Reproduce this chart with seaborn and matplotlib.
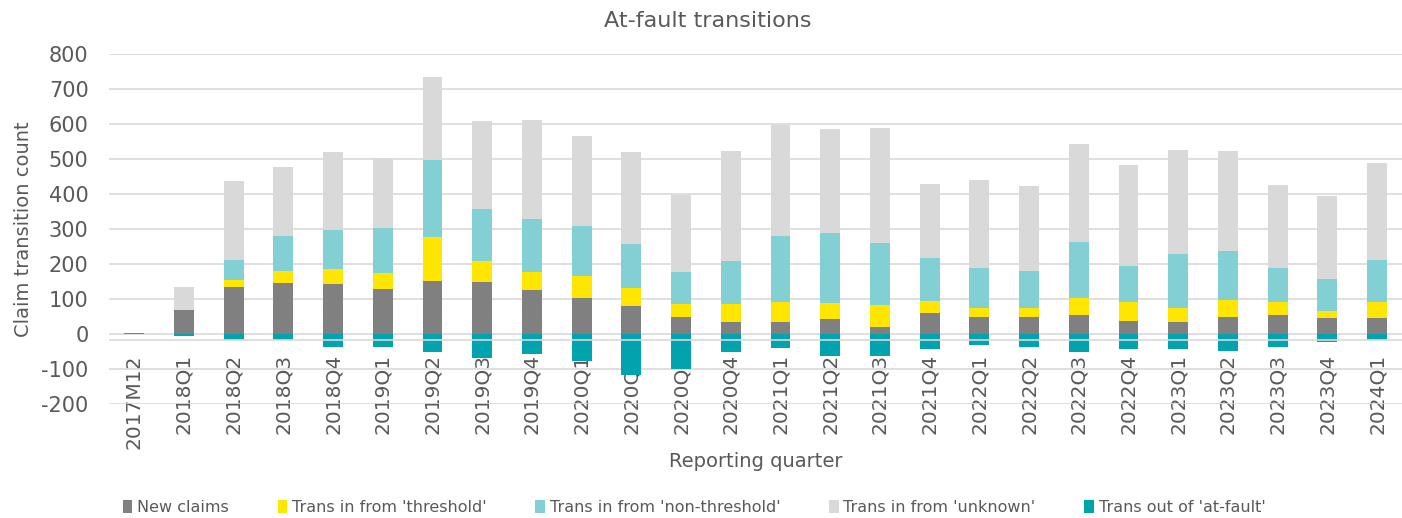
import matplotlib

matplotlib.use("Agg")
import matplotlib.pyplot as plt
import numpy as np
import pandas as pd
import seaborn as sns
from matplotlib.patches import Patch

# ---------------------------------------------------------------------------
# Data
# ---------------------------------------------------------------------------

quarters = [
    "2017M12", "2018Q1", "2018Q2", "2018Q3", "2018Q4",
    "2019Q1", "2019Q2", "2019Q3", "2019Q4",
    "2020Q1", "2020Q2", "2020Q3", "2020Q4",
    "2021Q1", "2021Q2", "2021Q3", "2021Q4",
    "2022Q1", "2022Q2", "2022Q3", "2022Q4",
    "2023Q1", "2023Q2", "2023Q3", "2023Q4",
    "2024Q1",
]
new_claims = [3, 69, 135, 146, 143, 130, 152, 149, 126, 103, 80, 50, 36,
              36, 44, 20, 60, 50, 50, 56, 39, 36, 50, 56, 46, 46]
from_threshold = [0, 0, 21, 36, 43, 45, 126, 60, 53, 63, 53, 37, 51,
                  57, 46, 63, 36, 26, 26, 47, 53, 40, 49, 36, 20, 46]
from_non_threshold = [0, 0, 56, 100, 112, 130, 219, 149, 149, 143, 126, 92, 123,
                      189, 199, 179, 123, 114, 106, 162, 103, 153, 139, 97, 93, 119]
from_unknown = [0, 66, 225, 195, 222, 199, 238, 252, 284, 257, 261, 220, 314,
                316, 298, 328, 211, 250, 242, 278, 288, 298, 285, 238, 235, 279]
out_of_at_fault = [0, -4, -16, -16, -35, -35, -50, -69, -55, -75, -115, -98, -50,
                   -40, -62, -62, -42, -32, -35, -50, -43, -43, -47, -35, -23, -16]

series_names = [
    "New claims",
    "Trans in from 'threshold'",
    "Trans in from 'non-threshold'",
    "Trans in from 'unknown'",
    "Trans out of 'at-fault'",
]
colors = ["#808080", "#FFE600", "#82D0D4", "#D9D9D9", "#00A3AE"]

df = pd.DataFrame({
    "quarter": quarters,
    "new": new_claims,
    "thr": from_threshold,
    "nonthr": from_non_threshold,
    "unk": from_unknown,
    "out": out_of_at_fault,
})
# cumulative tops for overdrawn stacking
df["c_new"] = df["new"]
df["c_thr"] = df["c_new"] + df["thr"]
df["c_nonthr"] = df["c_thr"] + df["nonthr"]
df["c_unk"] = df["c_nonthr"] + df["unk"]

# ---------------------------------------------------------------------------
# Plot
# ---------------------------------------------------------------------------

sns.set_theme(style="white")
plt.rcParams["font.family"] = ["DejaVu Sans"]
plt.rcParams["axes.unicode_minus"] = False
text_color = "#595959"
grid_color = "#D9D9D9"

fig = plt.figure(figsize=(14.02, 5.18), dpi=100)
ax = fig.add_axes([0.078, 0.2195, 0.922, 0.6757])

bar_kw = dict(x="quarter", order=quarters, width=0.4, saturation=1,
              linewidth=0, ax=ax, zorder=3)
sns.barplot(data=df, y="c_unk", color=colors[3], **bar_kw)
sns.barplot(data=df, y="c_nonthr", color=colors[2], **bar_kw)
sns.barplot(data=df, y="c_thr", color=colors[1], **bar_kw)
sns.barplot(data=df, y="c_new", color=colors[0], **bar_kw)
sns.barplot(data=df, y="out", color=colors[4], **bar_kw)

ax.set_ylim(-200, 800)
ax.set_xlim(-0.5, len(quarters) - 0.5)
ax.set_yticks(np.arange(-200, 801, 100))
ax.yaxis.grid(True, color=grid_color, linewidth=1.2, zorder=0)
ax.set_axisbelow(True)
# category axis line sits just below zero, drawn over the bars
ax.axhline(-17, color=grid_color, linewidth=1.2, zorder=4)
for s in ax.spines.values():
    s.set_visible(False)
ax.spines["bottom"].set_position(("data", -17))

ax.tick_params(axis="y", labelsize=15, labelcolor=text_color, length=0, pad=15)
ax.tick_params(axis="x", labelsize=14.5, labelcolor=text_color, length=0,
               rotation=90, pad=10)
ax.set_ylabel("Claim transition count", fontsize=14, color=text_color)
ax.yaxis.set_label_coords(-0.059, 0.5)
ax.set_xlabel("Reporting quarter", fontsize=14, color=text_color)
ax.xaxis.set_label_coords(0.5, -0.135)
ax.set_title("At-fault transitions", fontsize=16, color=text_color, pad=20, x=0.463)

handles = [Patch(facecolor=c, edgecolor="none") for c in colors]
fig.legend(handles, series_names, loc="center", bbox_to_anchor=(0.495, 0.02),
           ncol=5, frameon=False, fontsize=11.5, handlelength=0.6, handleheight=0.8,
           handletextpad=0.3, columnspacing=3.05, labelcolor=text_color)

fig.savefig("out.png", dpi=100)
